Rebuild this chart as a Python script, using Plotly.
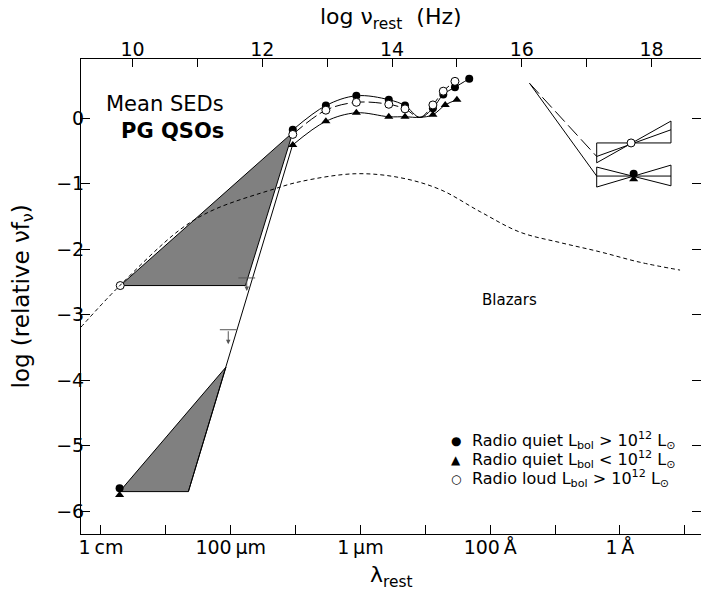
import plotly.graph_objects as go

# ---------------- data ----------------
# optical / IR mean points: log nu_rest (Hz) and log relative nuF_nu
rq_hi_lognu = [12.47, 12.98, 13.45, 13.95, 14.20, 14.63, 14.79, 14.97, 15.19]
rq_hi_val = [-0.18, 0.19, 0.34, 0.28, 0.19, 0.15, 0.36, 0.47, 0.60]
rq_lo_lognu = [12.47, 12.98, 13.45, 13.95, 14.20, 14.63, 14.82, 15.00]
rq_lo_val = [-0.41, -0.05, 0.08, 0.02, 0.02, 0.05, 0.20, 0.28]
rl_lognu = [12.47, 12.98, 13.45, 13.95, 14.20, 14.63, 14.79, 14.97]
rl_val = [-0.25, 0.12, 0.24, 0.21, 0.14, 0.20, 0.41, 0.56]
# common dip of the mean curves
dip_lognu = 14.43
dip_val = 0.01

# radio points
radio_lognu = [9.80, 9.80, 9.81]
radio_val = [-5.65, -5.75, -2.556]   # RQ high L, RQ low L, RL

# sub-mm ranges (shaded) and connecting line
rl_range_lognu = [9.81, 12.47, 11.74, 9.81]
rl_range_val = [-2.556, -0.22, -2.556, -2.556]
rq_range_lognu = [9.80, 11.44, 10.86, 9.80]
rq_range_val = [-5.70, -3.80, -5.70, -5.70]
rq_submm_lognu = [12.47, 10.86]
rq_submm_val = [-0.40, -5.70]
# upper limits
lim_lognu = [11.76, 11.475]
lim_val = [-2.44, -3.23]
lim_tip_val = [-2.64, -3.45]

# EUV extrapolations to X-rays
euv_lognu = [16.12, 17.155]
euv_rq_val = [0.53, -0.885]
euv_rl_val = [0.53, -0.586]

# X-ray bow ties
bow_lognu = [17.155, 18.30]
rl_bow_pivot = [17.685, -0.38]
rl_bow_flat = [-0.38, -0.38]
rl_bow_steep = [-0.683, -0.046]
rl_bow_mean = [-0.586, -0.179]
rq_bow_pivot_lognu = [17.725, 17.725]
rq_bow_pivot_val = [-0.85, -0.935]
rq_bow_flat = [-0.885, -0.885]
rq_bow_up = [-1.053, -0.718]
rq_bow_down = [-0.748, -1.034]

# blazar template
blz_lognu = [9.205, 9.76, 10.735, 11.25, 12.19, 12.585, 13.43, 14.125, 14.74,
             15.36, 15.97, 16.59, 17.20, 17.82, 18.44]
blz_val = [-3.19, -2.60, -1.70, -1.40, -1.08, -0.97, -0.85, -0.91, -1.09,
           -1.43, -1.74, -1.90, -2.04, -2.20, -2.32]

# axes ticks
nu_ticks = [10, 11, 12, 13, 14, 15, 16, 17, 18]
nu_labels = ["10", "", "12", "", "14", "", "16", "", "18"]
wl_ticks = [9.513, 10.513, 11.513, 12.513, 13.513, 14.513, 15.513, 16.513, 17.513, 18.513]
wl_labels = ["1\u2009cm", "", "100\u2009\u03bcm", "", "1\u2009\u03bcm", "",
             "100\u2009\u00c5", "", "1\u2009\u00c5", ""]
y_ticks = [-6, -5, -4, -3, -2, -1, 0]
y_labels = ["\u22126", "\u22125", "\u22124", "\u22123", "\u22122", "\u22121", "0"]

legend_symbols = ["\u25cf", "\u25b2", "\u25cb"]
legend_texts = [
    "Radio quiet L<sub>bol</sub> > 10<sup>12</sup> L<sub>\u2299</sub>",
    "Radio quiet L<sub>bol</sub> < 10<sup>12</sup> L<sub>\u2299</sub>",
    "Radio loud L<sub>bol</sub> > 10<sup>12</sup> L<sub>\u2299</sub>",
]

X_RANGE = [9.205, 18.763]
Y_RANGE = [-6.347, 0.901]
FONT = "DejaVu Sans, Liberation Sans, Arial, sans-serif"


def with_dip(xs, ys):
    i = next(k for k, v in enumerate(xs) if v > dip_lognu)
    return xs[:i] + [dip_lognu] + xs[i:], ys[:i] + [dip_val] + ys[i:]


fig = go.Figure()
line_k = dict(color="black", width=1)

# shaded ranges
fig.add_trace(go.Scatter(x=rl_range_lognu, y=rl_range_val, mode="lines", fill="toself",
                         fillcolor="#808080", line=line_k, hoverinfo="skip"))
fig.add_trace(go.Scatter(x=rq_range_lognu, y=rq_range_val, mode="lines", fill="toself",
                         fillcolor="#808080", line=line_k, hoverinfo="skip"))
fig.add_trace(go.Scatter(x=rq_submm_lognu, y=rq_submm_val, mode="lines", line=line_k, hoverinfo="skip"))

# blazar curve (on the top axis so that it is drawn)
fig.add_trace(go.Scatter(x=blz_lognu, y=blz_val, mode="lines", xaxis="x2",
                         line=dict(color="black", width=1, dash="4px,3px", shape="spline", smoothing=1.0),
                         hoverinfo="skip"))

# mean SED curves
spl = dict(color="black", width=1, shape="spline", smoothing=1.0)
cx, cy = with_dip(rq_hi_lognu, rq_hi_val)
fig.add_trace(go.Scatter(x=cx, y=cy, mode="lines", line=spl, hoverinfo="skip"))
cx, cy = with_dip(rq_lo_lognu, rq_lo_val)
fig.add_trace(go.Scatter(x=cx, y=cy, mode="lines", line=spl, hoverinfo="skip"))
cx, cy = with_dip(rl_lognu, rl_val)
fig.add_trace(go.Scatter(x=cx, y=cy, mode="lines", line=dict(spl, dash="13px,4px"), hoverinfo="skip"))

# EUV extrapolations
fig.add_trace(go.Scatter(x=euv_lognu, y=euv_rq_val, mode="lines", line=line_k, hoverinfo="skip"))
fig.add_trace(go.Scatter(x=euv_lognu, y=euv_rl_val, mode="lines",
                         line=dict(color="black", width=1, dash="14px,5px"), hoverinfo="skip"))

# bow ties
x0, x1 = bow_lognu
fig.add_trace(go.Scatter(
    x=[x0, x1, x1, x0, x0, None, x0, x1],
    y=[rl_bow_flat[0], rl_bow_flat[1], rl_bow_steep[1], rl_bow_steep[0], rl_bow_flat[0], None,
       rl_bow_mean[0], rl_bow_mean[1]],
    mode="lines", line=line_k, hoverinfo="skip"))
fig.add_trace(go.Scatter(
    x=[x0, x1, x1, x0, x0, None, x0, x1],
    y=[rq_bow_down[0], rq_bow_down[1], rq_bow_up[1], rq_bow_up[0], rq_bow_down[0], None,
       rq_bow_flat[0], rq_bow_flat[1]],
    mode="lines", line=line_k, hoverinfo="skip"))

# upper limits
fig.add_trace(go.Scatter(x=lim_lognu, y=lim_val, mode="markers",
                         marker=dict(symbol="line-ew", size=12, line=dict(color="#555555", width=1)),
                         hoverinfo="skip"))
for lx, ly, ty in zip(lim_lognu, lim_val, lim_tip_val):
    fig.add_annotation(x=lx, y=ty, ax=lx, ay=ly, axref="x", ayref="y", xref="x", yref="y",
                       text="", showarrow=True, arrowhead=2, arrowsize=0.9, arrowwidth=1,
                       arrowcolor="#555555")

# markers
mk_fill = dict(symbol="circle", size=8, color="black")
mk_tri = dict(symbol="triangle-up", size=8, color="black")
mk_open = dict(symbol="circle", size=8, color="white", line=dict(color="black", width=1))

fig.add_trace(go.Scatter(x=rq_hi_lognu + [radio_lognu[0], rq_bow_pivot_lognu[0]],
                         y=rq_hi_val + [radio_val[0], rq_bow_pivot_val[0]], mode="markers", marker=mk_fill,
                         name="Radio quiet, L > 1e12"))
fig.add_trace(go.Scatter(x=rq_lo_lognu + [radio_lognu[1], rq_bow_pivot_lognu[1]],
                         y=rq_lo_val + [radio_val[1], rq_bow_pivot_val[1]], mode="markers", marker=mk_tri,
                         name="Radio quiet, L < 1e12"))
fig.add_trace(go.Scatter(x=rl_lognu + [radio_lognu[2], rl_bow_pivot[0]],
                         y=rl_val + [radio_val[2], rl_bow_pivot[1]], mode="markers", marker=mk_open,
                         name="Radio loud, L > 1e12"))

# key (drawn as text)
key_rows_y = [0.196, 0.156, 0.116]
for sym, txt, ky in zip(legend_symbols, legend_texts, key_rows_y):
    fig.add_annotation(x=0.605, y=ky, xref="paper", yref="paper", text=sym, showarrow=False,
                       xanchor="center", yanchor="middle", font=dict(size=12, color="black"))
    fig.add_annotation(x=0.627, y=ky, xref="paper", yref="paper", text=txt, showarrow=False,
                       xanchor="left", yanchor="middle", font=dict(size=16, color="black"))

# texts
fig.add_annotation(x=11.44, y=0.22, xref="x", yref="y", text="Mean SEDs", showarrow=False,
                   xanchor="right", font=dict(size=21, color="black"))
fig.add_annotation(x=11.44, y=-0.20, xref="x", yref="y", text="<b>PG QSOs</b>", showarrow=False,
                   xanchor="right", font=dict(size=21, color="black"))
fig.add_annotation(x=15.81, y=-2.78, xref="x", yref="y", text="Blazars", showarrow=False,
                   font=dict(size=15, color="black"))

# axis titles
fig.add_annotation(x=0.5, y=1, xref="paper", yref="paper", yanchor="bottom", yshift=24,
                   text="log \u03bd<sub>rest</sub>\u00a0\u00a0(Hz)", showarrow=False, font=dict(size=22))
fig.add_annotation(x=0.5, y=0, xref="paper", yref="paper", yanchor="top", yshift=-26,
                   text="\u03bb<sub>rest</sub>", showarrow=False, font=dict(size=22))
fig.add_annotation(x=0, y=0.5, xref="paper", yref="paper", xanchor="center", xshift=-59,
                   text="log (relative \u03bdf<sub>\u03bd</sub>)", textangle=-90, showarrow=False,
                   font=dict(size=23))

axis_common = dict(showgrid=False, zeroline=False, showline=True, linecolor="black", linewidth=1,
                   ticks="inside", tickcolor="black", tickwidth=1, automargin=False,
                   tickfont=dict(size=19, color="black"))

fig.update_layout(
    width=701, height=593,
    margin=dict(l=81, r=0, t=59, b=59),
    paper_bgcolor="white", plot_bgcolor="white",
    font=dict(family=FONT, color="black"),
    showlegend=False,
    xaxis=dict(range=X_RANGE, tickmode="array", tickvals=wl_ticks, ticktext=wl_labels,
               ticklen=9, ticklabelstandoff=-4, **axis_common),
    xaxis2=dict(range=X_RANGE, overlaying="x", side="top", tickmode="array", tickvals=nu_ticks,
                ticktext=nu_labels, ticklen=8, ticklabelstandoff=-6, **axis_common),
    yaxis=dict(range=Y_RANGE, tickmode="array", tickvals=y_ticks, ticktext=y_labels,
               ticklen=9, mirror="ticks", ticklabelstandoff=-8, **axis_common),
)

fig.write_html("out.html", config={"displayModeBar": False},
               post_script="document.body.style.margin='0';document.body.style.overflow='hidden';")
